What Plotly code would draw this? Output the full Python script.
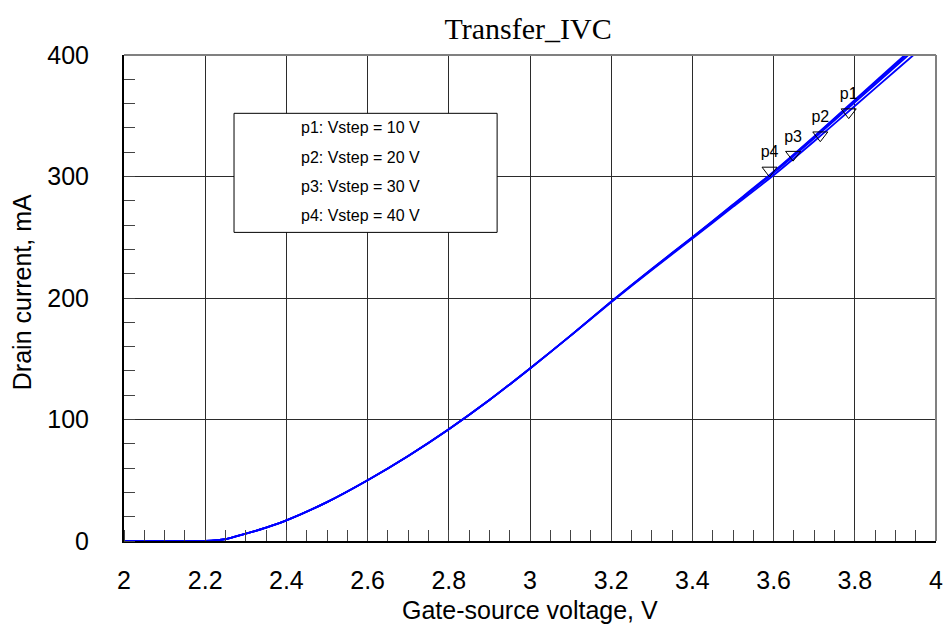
import plotly.graph_objects as go

# Gate-source voltage, V
vgs = [2.0, 2.1, 2.2, 2.25, 2.3, 2.35, 2.4, 2.5, 2.6, 2.7, 2.8, 2.9, 3.0,
       3.1, 3.2, 3.3, 3.4, 3.5, 3.6, 3.7, 3.8, 3.9, 4.0]
# Drain current, mA for each Vstep
id_p1 = [0, 0, 0, 1.5, 6, 11, 17, 32, 50, 70, 92, 116, 142,
         169, 196.5, 223, 249, 275, 301, 329, 358, 387, 416]
id_p2 = [0, 0, 0, 1.5, 6, 11, 17, 32, 50, 70, 92, 116, 142,
         169, 197, 223.5, 249.5, 276, 303, 331.5, 361, 390.5, 420]
id_p3 = [0, 0, 0, 1.5, 6, 11, 17, 32, 50, 70, 92, 116, 142,
         169, 197, 224, 250, 276.5, 303.5, 332.5, 362.5, 392, 422]
id_p4 = [0, 0, 0, 1.5, 6, 11, 17, 32, 50, 70, 92, 116, 142,
         169, 197, 224, 250, 277, 304, 333, 363, 393, 423]
series_names = ["p1", "p2", "p3", "p4"]
legend_texts = ["p1: Vstep = 10 V", "p2: Vstep = 20 V", "p3: Vstep = 30 V", "p4: Vstep = 40 V"]
# marker positions (Vgs, Id)
marker_x = [3.785, 3.715, 3.648, 3.59]
marker_y = [353, 334, 318, 305]

FONT = "Liberation Sans, Arial, sans-serif"

fig = go.Figure()
for name, ys in zip(series_names, [id_p1, id_p2, id_p3, id_p4]):
    fig.add_trace(go.Scatter(x=vgs, y=ys, mode="lines", name=name,
                             line=dict(color="#0000ff", width=1.8, shape="spline", smoothing=0.6),
                             showlegend=False, cliponaxis=True))

fig.add_trace(go.Scatter(
    x=marker_x, y=marker_y, mode="markers+text", text=series_names,
    textposition="top center",
    textfont=dict(family=FONT, size=16, color="#000000"),
    marker=dict(symbol="triangle-down-open", size=13, color="#000000",
                line=dict(width=1, color="#000000")),
    showlegend=False, cliponaxis=False))

# legend box
fig.add_shape(type="rect", xref="x", yref="y", x0=2.271, x1=2.919, y0=254, y1=352,
              line=dict(color="#000000", width=1), fillcolor="white", layer="above")
legend_y = [340, 316, 292, 268]
for t, yy in zip(legend_texts, legend_y):
    fig.add_annotation(x=2.431, y=yy, xref="x", yref="y", text=t, showarrow=False,
                       xanchor="left", yanchor="middle",
                       font=dict(family=FONT, size=16, color="#000000"))

# axis titles
fig.add_annotation(x=0.5, y=-0.142, xref="paper", yref="paper", text="Gate-source voltage, V",
                   showarrow=False, xanchor="center", yanchor="middle",
                   font=dict(family=FONT, size=25, color="#000000"))
fig.add_annotation(x=-0.1256, y=0.512, xref="paper", yref="paper", text="Drain current, mA",
                   showarrow=False, xanchor="center", yanchor="middle", textangle=-90,
                   font=dict(family=FONT, size=25, color="#000000"))

# top/right gray border
fig.add_shape(type="line", xref="paper", yref="paper", x0=0, x1=1, y0=1, y1=1,
              line=dict(color="#808080", width=2), layer="above")
fig.add_shape(type="line", xref="paper", yref="paper", x0=1, x1=1, y0=0, y1=1,
              line=dict(color="#808080", width=2), layer="above")

fig.update_layout(
    width=943, height=624,
    margin=dict(l=124, r=7, t=55, b=83),
    paper_bgcolor="white", plot_bgcolor="white",
    title=dict(text="Transfer_IVC", x=0.56, xanchor="center", y=0.955, yanchor="middle",
               font=dict(family="Liberation Serif, Times New Roman, serif", size=30, color="#000000")),
    font=dict(family=FONT, color="#000000"),
)
fig.update_xaxes(
    range=[2, 4], tickvals=[2, 2.2, 2.4, 2.6, 2.8, 3, 3.2, 3.4, 3.6, 3.8, 4],
    ticktext=["2", "2.2", "2.4", "2.6", "2.8", "3", "3.2", "3.4", "3.6", "3.8", "4"],
    showgrid=True, gridcolor="#2b2b2b", gridwidth=1, zeroline=False,
    showline=True, linecolor="#000000", linewidth=2, automargin=False,
    ticks="", ticklabelstandoff=16, ticklabeloverflow="allow",
    tickfont=dict(family=FONT, size=25, color="#000000"),
    minor=dict(dtick=0.05, ticks="inside", ticklen=11, tickcolor="#444444", tickwidth=1, showgrid=False),
)
fig.update_yaxes(
    range=[0, 400], tickvals=[0, 100, 200, 300, 400],
    showgrid=True, gridcolor="#2b2b2b", gridwidth=1, zeroline=False,
    showline=True, linecolor="#000000", linewidth=2, automargin=False,
    ticks="", ticklabelstandoff=28, ticklabeloverflow="allow",
    tickfont=dict(family=FONT, size=25, color="#000000"),
    minor=dict(dtick=20, ticks="inside", ticklen=11, tickcolor="#444444", tickwidth=1, showgrid=False),
)

fig.write_html("out.html", config={"displayModeBar": False},
               post_script="document.body.style.margin='0';document.body.style.overflow='hidden';")
